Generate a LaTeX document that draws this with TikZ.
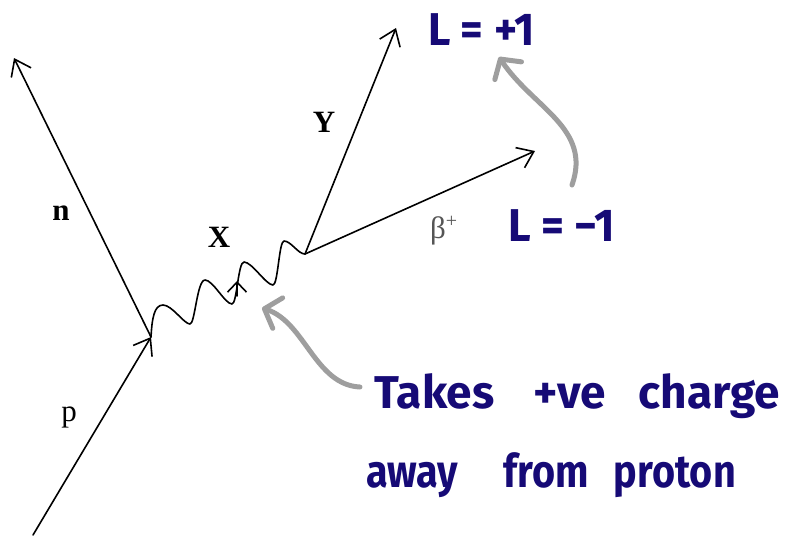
\documentclass[tikz,border=0pt]{standalone}
\usepackage{fontspec}
\setmainfont{Liberation Serif}
\newfontfamily\handfont{Fira Sans}
\usetikzlibrary{arrows.meta}
\definecolor{ink}{RGB}{22,10,118}
\definecolor{pen}{RGB}{158,158,158}
\definecolor{betagray}{RGB}{85,85,85}
\begin{document}
\begin{tikzpicture}[x=1pt,y=-1pt,
  fline/.style={line width=1.6pt, black, line cap=round},
  farr/.style={fline, -{Straight Barb[length=15pt,width=22pt]}},
  lab/.style={font=\fontsize{31}{33}\selectfont, inner sep=0pt, anchor=base},
  blab/.style={font=\bfseries\fontsize{31}{33}\selectfont, inner sep=0pt, anchor=base},
  hand/.style={font=\handfont\bfseries\fontsize{46}{50}\selectfont, text=ink, inner sep=0pt, anchor=base west},
  grayarr/.style={draw=pen, line width=5pt, line cap=round, line join=round,
    -{Straight Barb[length=14pt,width=32pt,round]}}]
\useasboundingbox (0,0) rectangle (786,539);
% vertices and ends
\coordinate (A) at (151,337);
\coordinate (B) at (305,254);
\coordinate (pstart) at (33,535);
\coordinate (ntip) at (14,58);
\coordinate (ytip) at (396,28);
\coordinate (btip) at (535,151);
% fermion lines
\draw[farr] (pstart) -- (A);
\draw[farr] (A) -- (ntip);
\draw[farr] (B) -- (ytip);
\draw[farr] (B) -- (btip);
% wavy boson line
\draw[fline, line join=round] (A)
  .. controls (152,319) and (154,305) .. (163,305)
  .. controls (172,305) and (184,324) .. (190,324)
  .. controls (195,324) and (197,280) .. (205,280)
  .. controls (213,280) and (225,304) .. (232,304)
  .. controls (237,304) and (238,262) .. (244,262)
  .. controls (252,262) and (266,285) .. (273,285)
  .. controls (278,285) and (279,241) .. (284,241)
  .. controls (291,241) and (298,254) .. (B);
\coordinate (xarrtip) at (237,281);
\draw[fline, -{Straight Barb[length=10pt,width=19pt]}] (237,296) -- (xarrtip);
% labels
\node[blab] (nlab) at (61,220) {n};
\node[lab] (plab) at (69,421) {p};
\node[blab] (xlab) at (219,247) {X};
\node[blab] (ylab) at (324,132) {Y};
\node[lab, text=betagray, anchor=base west] (betalab) at (430,238) {β\raisebox{11pt}{\fontsize{20}{20}\selectfont +}};
% handwritten notes
\node[hand] (Lplus) at (428,45) {\scalebox{0.95}[1]{L = +1}};
\node[hand] (Lminus) at (508,241) {\scalebox{0.96}[1]{L = −1}};
\node[hand] (line1) at (374,408) {Takes\hspace{28pt} +ve\hspace{22pt} charge};
\node[hand] (line2) at (366,487) {\scalebox{0.86}[1]{away\hspace{42pt} from\hspace{18pt} proton}};
% grey pointer arrows
\coordinate (g1s) at (572,185);
\coordinate (g1e) at (499,57);
\coordinate (g2s) at (360,387);
\coordinate (g2e) at (262,308);
\draw[grayarr] (g1s) .. controls (592,128) and (533,108) .. (g1e);
\draw[grayarr] (g2s) .. controls (315,385) and (305,322) .. (g2e);
\end{tikzpicture}
\end{document}
